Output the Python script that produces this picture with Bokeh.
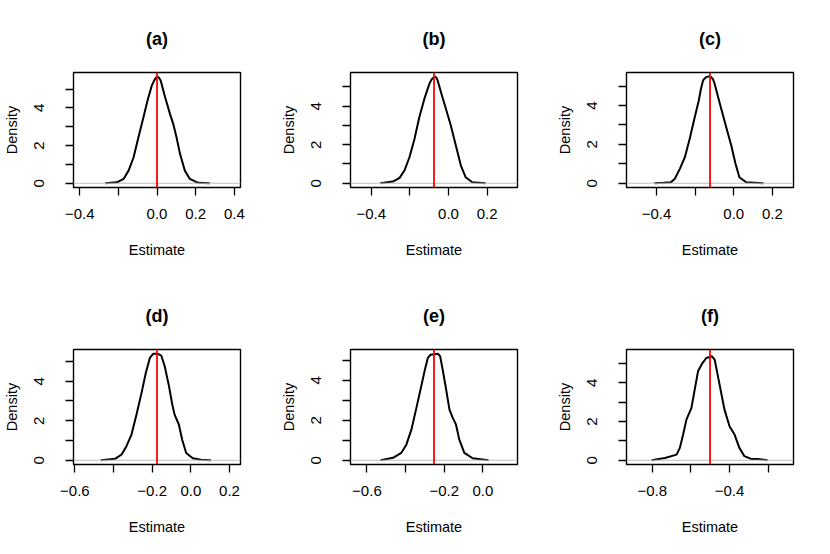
from bokeh.plotting import figure
from bokeh.layouts import row, column
from bokeh.models import Span, FixedTicker
from bokeh.embed import file_html
from bokeh.resources import INLINE

# ---------------- data ----------------
panel_titles = ["(a)", "(b)", "(c)", "(d)", "(e)", "(f)"]
estimates = [0.0, -0.075, -0.123, -0.175, -0.253, -0.501]
density_top = [5.65, 5.53, 5.48, 5.39, 5.33, 5.51]

a_x = [-0.267, -0.207, -0.173, -0.147, -0.121, -0.096, -0.070, -0.049, -0.027, -0.016, -0.006,
       0.002, 0.010, 0.019, 0.042, 0.067, 0.084, 0.101, 0.119, 0.144, 0.170, 0.213, 0.273]
a_y = [0.00, 0.05, 0.23, 0.67, 1.38, 2.44, 3.50, 4.39, 5.18, 5.42, 5.60,
       5.65, 5.60, 5.45, 4.56, 3.68, 3.15, 2.44, 1.56, 0.67, 0.23, 0.02, 0.00]

b_x = [-0.353, -0.288, -0.253, -0.228, -0.202, -0.176, -0.151, -0.125, -0.099, -0.088, -0.077,
       -0.068, -0.061, -0.056, -0.034, -0.013, 0.012, 0.038, 0.064, 0.089, 0.123, 0.192]
b_y = [0.00, 0.09, 0.28, 0.66, 1.35, 2.30, 3.43, 4.38, 5.16, 5.38, 5.50,
       5.53, 5.46, 5.33, 4.56, 3.86, 3.00, 1.96, 0.92, 0.31, 0.05, 0.00]

c_x = [-0.411, -0.365, -0.325, -0.305, -0.279, -0.253, -0.228, -0.202, -0.181, -0.170, -0.159,
       -0.150, -0.142, -0.131, -0.120, -0.108, -0.099, -0.090, -0.065, -0.039, -0.013, 0.009,
       0.029, 0.064, 0.154]
c_y = [0.00, 0.02, 0.05, 0.23, 0.74, 1.34, 2.29, 3.40, 4.26, 4.85, 5.29,
       5.40, 5.46, 5.50, 5.48, 5.37, 5.12, 4.77, 3.83, 2.88, 1.94, 1.00,
       0.31, 0.05, 0.00]

d_x = [-0.466, -0.392, -0.358, -0.333, -0.307, -0.281, -0.255, -0.233, -0.212, -0.195, -0.170,
       -0.153, -0.135, -0.113, -0.096, -0.084, -0.062, -0.045, -0.024, 0.010, 0.053, 0.104]
d_y = [0.00, 0.07, 0.29, 0.71, 1.30, 2.31, 3.41, 4.42, 5.18, 5.39, 5.39,
       5.30, 4.76, 3.75, 2.82, 2.31, 1.81, 1.05, 0.37, 0.10, 0.03, 0.00]

e_x = [-0.530, -0.465, -0.422, -0.396, -0.370, -0.344, -0.319, -0.302, -0.285, -0.271, -0.250,
       -0.233, -0.221, -0.208, -0.190, -0.173, -0.156, -0.139, -0.122, -0.096, -0.053, 0.029]
e_y = [0.00, 0.12, 0.37, 0.78, 1.53, 2.62, 3.70, 4.45, 5.12, 5.28, 5.30,
       5.33, 5.20, 4.53, 3.53, 2.53, 2.12, 1.78, 1.03, 0.37, 0.10, 0.00]

f_x = [-0.803, -0.734, -0.674, -0.657, -0.640, -0.623, -0.597, -0.580, -0.563, -0.540, -0.520,
       -0.503, -0.491, -0.477, -0.460, -0.443, -0.426, -0.400, -0.374, -0.349, -0.323, -0.289,
       -0.254, -0.203]
f_y = [0.00, 0.12, 0.29, 0.64, 1.33, 2.10, 2.71, 3.66, 4.60, 5.03, 5.29,
       5.34, 5.38, 5.21, 4.35, 3.48, 2.62, 1.76, 1.33, 0.64, 0.21, 0.07,
       0.07, 0.00]

curves_x = [a_x, b_x, c_x, d_x, e_x, f_x]
curves_y = [a_y, b_y, c_y, d_y, e_y, f_y]

# x ticks: labelled and unlabelled (R drops overlapping labels)
x_labelled = [[-0.4, 0.0, 0.2, 0.4], [-0.4, 0.0, 0.2], [-0.4, 0.0, 0.2],
              [-0.6, -0.2, 0.0, 0.2], [-0.6, -0.2, 0.0], [-0.8, -0.4]]
x_unlabelled = [[-0.2], [-0.2], [-0.2], [-0.4], [-0.4], [-0.6, -0.2]]
y_labelled = [0, 2, 4]
y_unlabelled = [1, 3, 5]

x_label = "Estimate"
y_label = "Density"

# ---------------- layout ----------------
FONT = "Liberation Sans"
col_w = [277, 276, 277]
border_l = [72, 72, 72]
border_r = [37, 36, 37]
row_h = [277, 277]
border_t = [72, 72]
border_b = [90, 90]


def fmt(v):
    s = "%.1f" % abs(v)
    return ("\u2212" + s) if v < 0 else s


def make_panel(i):
    r, c = divmod(i, 3)
    est = estimates[i]
    half = 0.4 * 1.08
    top = density_top[i]
    p = figure(width=col_w[c], height=row_h[r], output_backend="svg", toolbar_location=None,
               x_range=(est - half, est + half), y_range=(-0.04 * top, 1.04 * top),
               min_border_left=border_l[c], min_border_right=border_r[c],
               min_border_top=border_t[r], min_border_bottom=border_b[r],
               background_fill_color="white", border_fill_color="white")
    p.grid.visible = False
    p.outline_line_color = "black"
    p.outline_line_width = 1.4

    p.title.text = panel_titles[i]
    p.title.align = "center"
    p.title.text_font = FONT
    p.title.text_font_size = "18px"
    p.title.text_font_style = "bold"
    p.title.text_color = "black"
    p.title.standoff = 48

    xa = p.xaxis[0]
    xa.ticker = FixedTicker(ticks=x_labelled[i], minor_ticks=x_unlabelled[i])
    xa.major_label_overrides = {t: fmt(t) for t in x_labelled[i]}
    ya = p.yaxis[0]
    ya.ticker = FixedTicker(ticks=y_labelled, minor_ticks=y_unlabelled)
    ya.major_label_overrides = {t: str(t) for t in y_labelled}
    ya.major_label_orientation = "parallel"

    xa.axis_label = x_label
    ya.axis_label = y_label
    for ax in (xa, ya):
        ax.axis_line_color = None
        ax.major_tick_in = 0
        ax.major_tick_out = 8
        ax.minor_tick_in = 0
        ax.minor_tick_out = 8
        ax.major_tick_line_color = "black"
        ax.minor_tick_line_color = "black"
        ax.major_tick_line_width = 1.3
        ax.minor_tick_line_width = 1.3
        ax.major_label_text_font = FONT
        ax.major_label_text_font_size = "15px"
        ax.major_label_text_color = "black"
        ax.axis_label_text_font = FONT
        ax.axis_label_text_font_size = "14.5px"
        ax.axis_label_text_font_style = "normal"
        ax.axis_label_text_color = "black"
    xa.major_label_standoff = 13
    xa.axis_label_standoff = 20
    ya.major_label_standoff = 21
    ya.axis_label_standoff = 12

    p.add_layout(Span(location=0, dimension="width", line_color="#BEBEBE", line_width=1))
    p.line(curves_x[i], curves_y[i], line_color="black", line_width=2, line_join="round")
    p.add_layout(Span(location=est, dimension="height", line_color="#FF0000", line_width=1.8))
    return p


panels = [make_panel(i) for i in range(6)]
layout = column(row(*panels[0:3]), row(*panels[3:6]))

open("out.html", "w").write(file_html(layout, INLINE))
